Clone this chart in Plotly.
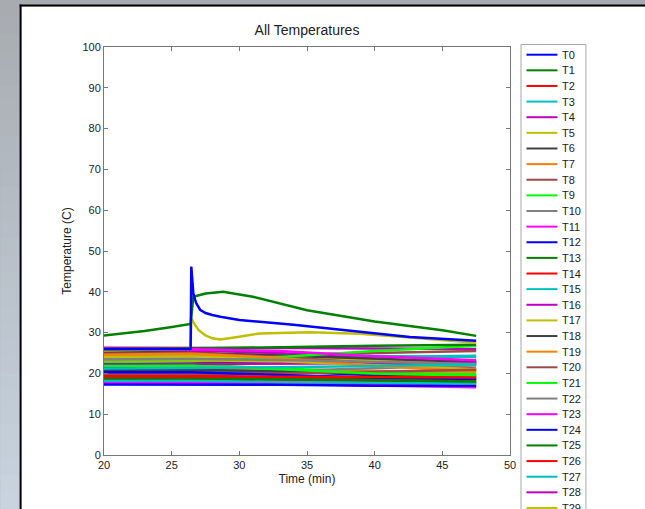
import plotly.graph_objects as go

# ---------------- data ----------------
SERIES_NAMES = [f"T{i}" for i in range(40)]

COLOR_CYCLE = ["#0000ff", "#008000", "#ff0000", "#00bfbf", "#bf00bf", "#bfbf00",
               "#404040", "#ff8000", "#a04848", "#00ff00", "#808080", "#ff00ff"]

# special sensors (own time stamps)
T0_TIME = [20, 26.4, 26.45, 26.6, 26.8, 27.1, 27.5, 28.0, 28.6, 30, 34, 38.9, 42.6, 47.5]
T0_VALS = [25.9, 26.0, 46.2, 39.6, 37.3, 35.6, 34.8, 34.3, 33.9, 33.1, 31.9, 30.2, 28.9, 28.0]

T1_TIME = [20, 23, 24.9, 26.4, 26.6, 27.5, 28.8, 31, 35, 40, 45, 47.5]
T1_VALS = [29.3, 30.4, 31.3, 32.1, 38.8, 39.6, 40.0, 38.8, 35.5, 32.7, 30.6, 29.2]

T5_TIME = [20, 26.4, 26.45, 26.7, 27.0, 27.5, 28.0, 28.6, 30, 31.5, 35.2, 38.9, 42.6, 47.5]
T5_VALS = [25.6, 26.0, 33.5, 32.0, 30.6, 29.3, 28.6, 28.3, 29.0, 29.8, 30.1, 29.7, 28.8, 27.5]

# remaining sensors share these time stamps
CLUSTER_TIME = [20, 26.5, 33, 40, 47.5]
CLUSTER_VALS = {
    "T2":  [20.5, 20.6, 20.3, 20.0, 19.6],
    "T3":  [23.0, 23.2, 23.5, 24.0, 24.3],
    "T4":  [26.3, 26.3, 26.2, 26.1, 26.0],
    "T6":  [22.5, 22.8, 22.9, 23.0, 23.0],
    "T7":  [25.0, 25.3, 23.5, 22.0, 20.8],
    "T8":  [24.2, 24.4, 24.6, 25.0, 25.5],
    "T9":  [22.0, 22.2, 21.2, 20.4, 19.8],
    "T10": [23.8, 23.6, 23.0, 22.5, 22.0],
    "T11": [17.6, 17.6, 17.4, 17.0, 16.6],
    "T12": [21.5, 21.4, 20.5, 19.5, 18.5],
    "T13": [19.0, 19.1, 18.9, 18.7, 18.4],
    "T14": [18.5, 18.5, 18.3, 18.0, 17.7],
    "T15": [24.5, 24.6, 24.5, 24.3, 24.0],
    "T16": [25.5, 25.6, 25.0, 23.5, 22.5],
    "T17": [24.0, 24.2, 23.7, 23.2, 22.8],
    "T18": [25.2, 25.0, 24.4, 23.6, 22.8],
    "T19": [21.0, 21.0, 20.8, 20.6, 20.4],
    "T20": [24.8, 25.0, 24.0, 22.5, 21.2],
    "T21": [22.8, 23.0, 24.0, 25.5, 26.8],
    "T22": [20.0, 20.1, 20.6, 21.3, 22.0],
    "T23": [17.9, 17.9, 17.7, 17.3, 16.9],
    "T24": [17.3, 17.3, 17.2, 17.0, 17.0],
    "T25": [26.0, 26.1, 26.4, 26.8, 27.0],
    "T26": [19.5, 19.5, 19.0, 18.3, 17.6],
    "T27": [18.2, 18.2, 17.9, 17.7, 17.5],
    "T28": [22.2, 22.3, 22.4, 22.5, 22.6],
    "T29": [23.2, 23.2, 23.0, 22.0, 21.0],
    "T30": [20.8, 20.9, 20.5, 19.8, 19.2],
    "T31": [24.6, 24.8, 23.8, 21.8, 20.5],
    "T32": [19.8, 19.9, 20.0, 20.4, 20.9],
    "T33": [21.8, 21.9, 21.0, 20.0, 19.4],
    "T34": [23.4, 23.5, 23.3, 22.8, 22.3],
    "T35": [25.8, 25.9, 25.5, 24.2, 23.2],
    "T36": [20.3, 20.3, 19.6, 19.0, 18.6],
    "T37": [18.8, 18.8, 18.6, 18.3, 18.0],
    "T38": [19.3, 19.3, 19.2, 19.1, 19.0],
    "T39": [21.2, 21.3, 21.5, 21.8, 22.2],
}

X_TICKS = [20, 25, 30, 35, 40, 45, 50]
Y_TICKS = [0, 10, 20, 30, 40, 50, 60, 70, 80, 90, 100]

# ---------------- layout geometry (pixels) ----------------
W, H = 645, 509
L, R, T, B = 104, 510.5, 47, 455


def px_x(px):
    return (px - L) / (R - L)


def px_y(py):
    return (B - py) / (B - T)


FONT = "Liberation Sans, Arial, sans-serif"

fig = go.Figure()

series = {}
for name, vals in CLUSTER_VALS.items():
    series[name] = (CLUSTER_TIME, vals)
series["T0"] = (T0_TIME, T0_VALS)
series["T1"] = (T1_TIME, T1_VALS)
series["T5"] = (T5_TIME, T5_VALS)

# draw cluster first, special ones on top
order = [n for n in SERIES_NAMES if n not in ("T0", "T1", "T5")] + ["T5", "T1", "T0"]
for name in order:
    idx = SERIES_NAMES.index(name)
    xs, ys = series[name]
    fig.add_trace(go.Scatter(
        x=xs, y=ys, mode="lines", name=name, showlegend=False,
        line=dict(color=COLOR_CYCLE[idx % 12], width=2.5),
    ))

shapes = []
annotations = []

# background frame with vertical gradient
top_c = (168, 172, 177)
bot_c = (200, 211, 223)
nb = 30
for i in range(nb):
    f = i / (nb - 1)
    c = tuple(int(round(top_c[k] + (bot_c[k] - top_c[k]) * f)) for k in range(3))
    y0 = H * i / nb
    y1 = H * (i + 1) / nb + 1
    shapes.append(dict(type="rect", xref="paper", yref="paper", layer="below",
                       x0=px_x(0), x1=px_x(W), y0=px_y(y0), y1=px_y(y1),
                       fillcolor="rgb(%d,%d,%d)" % c, line=dict(width=0)))
# white panel
shapes.append(dict(type="rect", xref="paper", yref="paper", layer="below",
                   x0=px_x(21), x1=px_x(W + 2), y0=px_y(6.5), y1=px_y(H + 2),
                   fillcolor="white", line=dict(width=0)))
shapes.append(dict(type="line", xref="paper", yref="paper", layer="below",
                   x0=px_x(19.5), x1=px_x(W + 2), y0=px_y(5.5), y1=px_y(5.5),
                   line=dict(color="black", width=2)))
shapes.append(dict(type="line", xref="paper", yref="paper", layer="below",
                   x0=px_x(20.5), x1=px_x(20.5), y0=px_y(4.5), y1=px_y(H + 2),
                   line=dict(color="black", width=2)))

# legend box (drawn manually to match tight MATLAB spacing)
LEG_X0, LEG_X1, LEG_Y0 = 521.5, 586.5, 44.5
shapes.append(dict(type="rect", xref="paper", yref="paper",
                   x0=px_x(LEG_X0), x1=px_x(LEG_X1), y0=px_y(LEG_Y0), y1=px_y(H + 20),
                   fillcolor="white", line=dict(color="#a8a8a8", width=1)))
for i, name in enumerate(SERIES_NAMES):
    yy = 54.7 + 15.63 * i
    if yy > H + 10:
        break
    shapes.append(dict(type="line", xref="paper", yref="paper",
                       x0=px_x(527), x1=px_x(558), y0=px_y(yy), y1=px_y(yy),
                       line=dict(color=COLOR_CYCLE[i % 12], width=2)))
    annotations.append(dict(xref="paper", yref="paper", x=px_x(561), y=px_y(yy),
                            text=name, showarrow=False, xanchor="left", yanchor="middle",
                            font=dict(family=FONT, size=11, color="#222")))

axis_common = dict(showline=True, linecolor="#777777", linewidth=1, mirror="ticks",
                   ticks="inside", ticklen=4, tickcolor="#777777", showgrid=False,
                   zeroline=False, tickfont=dict(family=FONT, size=11, color="#222"))

fig.update_layout(
    width=W, height=H,
    margin=dict(l=L, r=W - R, t=T, b=H - B, pad=0),
    paper_bgcolor="rgb(168,172,177)",
    plot_bgcolor="white",
    showlegend=False,
    title=dict(text="All Temperatures", x=0.5, xref="paper", xanchor="center",
               y=1 - 30 / H, yref="container", yanchor="middle",
               font=dict(family=FONT, size=14, color="#222")),
    xaxis=dict(range=[20, 50], tickvals=X_TICKS, ticktext=[str(v) for v in X_TICKS],
               title=dict(text="Time (min)", standoff=4,
                          font=dict(family=FONT, size=12, color="#222")),
               **axis_common),
    yaxis=dict(range=[0, 100], tickvals=Y_TICKS, ticktext=[str(v) for v in Y_TICKS],
               title=dict(text="Temperature (C)", standoff=8,
                          font=dict(family=FONT, size=12, color="#222")),
               **axis_common),
    shapes=shapes,
    annotations=annotations,
)

fig.write_html("out.html")
